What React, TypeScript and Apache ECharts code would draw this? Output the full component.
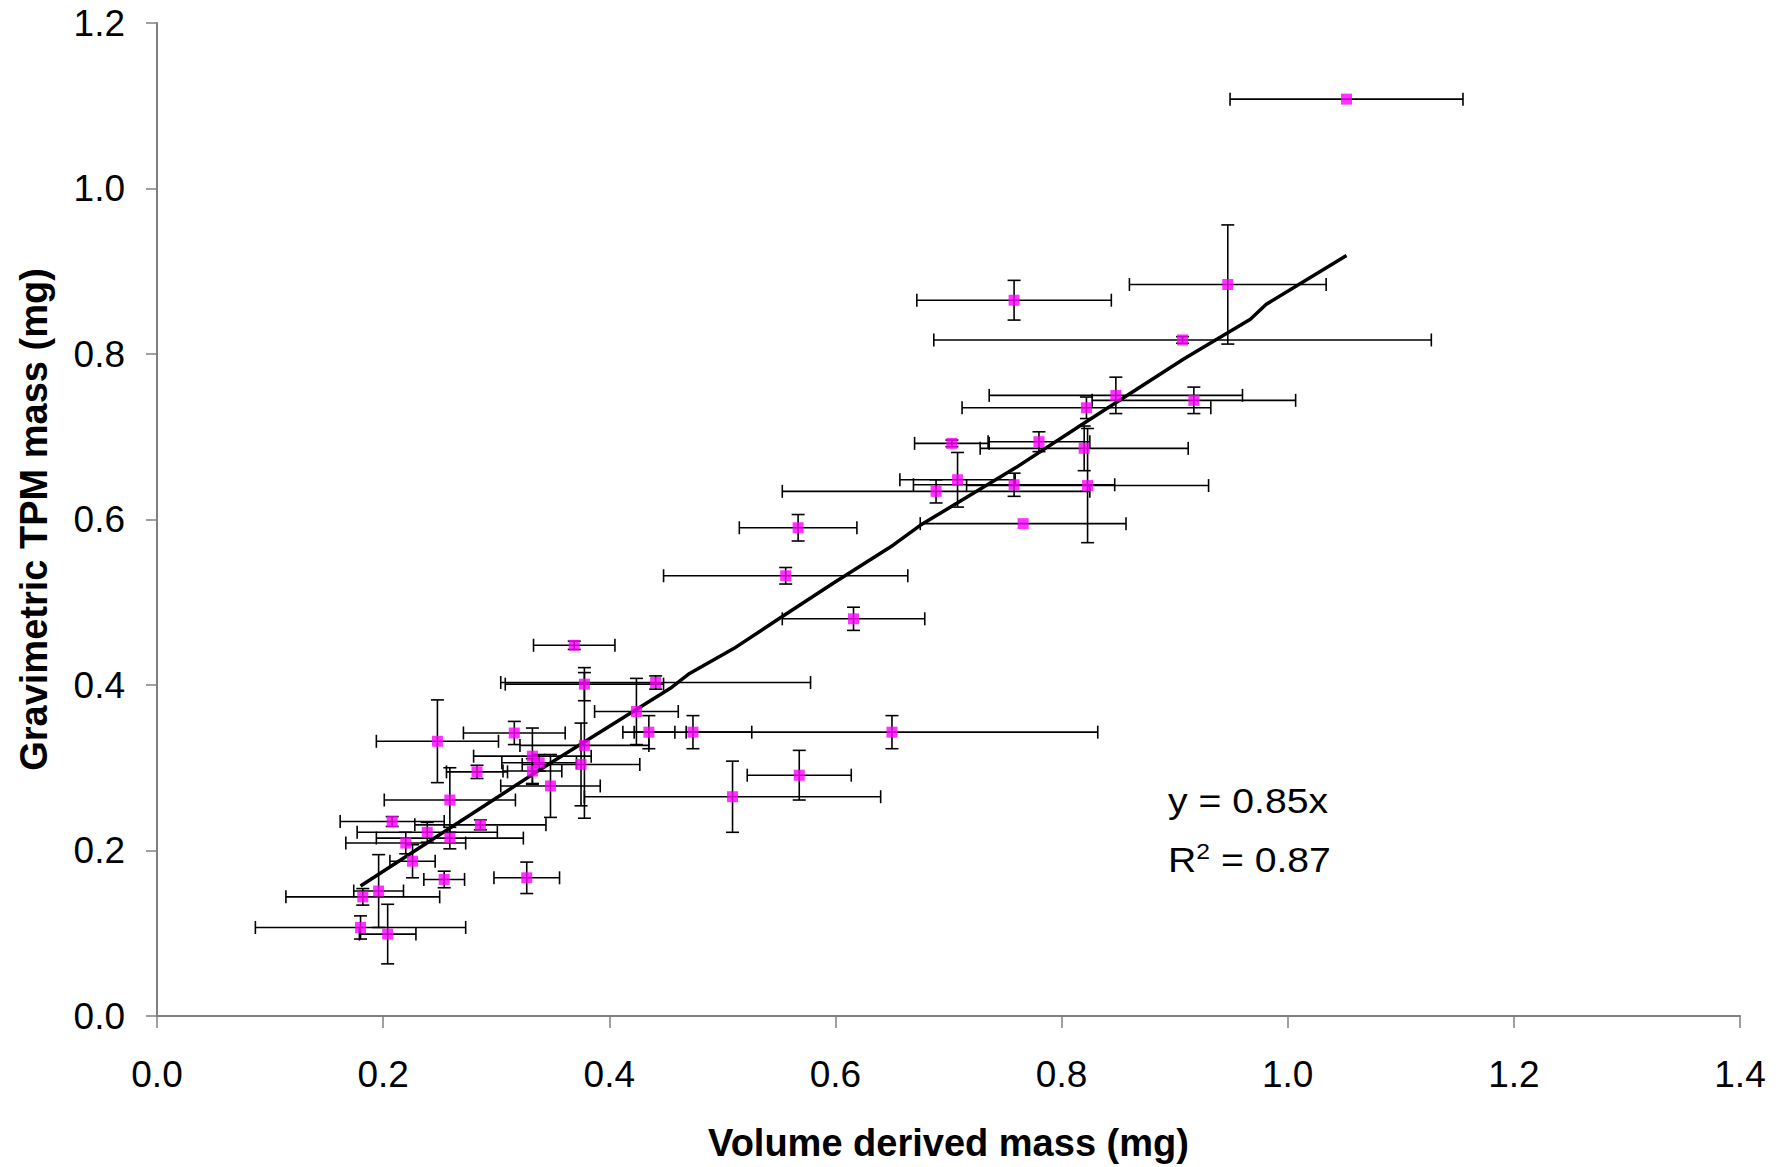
import React, { useEffect, useRef } from "react";
import * as echarts from "echarts";

// Volume derived mass (mg) for each particle sample
const xValues = [
  1.052, 0.947, 0.758, 0.907, 0.848, 0.822, 0.917, 0.703, 0.780, 0.820,
  0.708, 0.689, 0.758, 0.823, 0.567, 0.766, 0.556, 0.616, 0.369, 0.441,
  0.378, 0.424, 0.435, 0.474, 0.650, 0.316, 0.248, 0.332, 0.378, 0.338,
  0.375, 0.348, 0.283, 0.568, 0.509, 0.259, 0.208, 0.286, 0.239, 0.259,
  0.220, 0.226, 0.254, 0.327, 0.196, 0.182, 0.180, 0.204, 0.332,
];
// Gravimetric TPM mass (mg)
const yValues = [
  1.108, 0.884, 0.865, 0.817, 0.750, 0.735, 0.744, 0.692, 0.694, 0.686,
  0.648, 0.634, 0.642, 0.641, 0.590, 0.595, 0.532, 0.480, 0.448, 0.403,
  0.401, 0.368, 0.343, 0.343, 0.343, 0.342, 0.332, 0.314, 0.327, 0.306,
  0.304, 0.278, 0.295, 0.291, 0.265, 0.261, 0.235, 0.231, 0.222, 0.215,
  0.209, 0.187, 0.165, 0.167, 0.151, 0.144, 0.107, 0.099, 0.296,
];
// horizontal error (± mg)
const xErrors = [
  0.103, 0.087, 0.086, 0.220, 0.112, 0.110, 0.090, 0.033, 0.045, 0.092,
  0.051, 0.136, 0.089, 0.107, 0.052, 0.091, 0.108, 0.063, 0.036, 0.137,
  0.070, 0.037, 0.023, 0.052, 0.182, 0.045, 0.054, 0.052, 0.057, 0.033,
  0.052, 0.044, 0.027, 0.046, 0.131, 0.058, 0.046, 0.058, 0.062, 0.065,
  0.053, 0.020, 0.018, 0.029, 0.022, 0.068, 0.093, 0.025, 0.026,
];
// vertical error (± mg)
const yErrors = [
  0.000, 0.072, 0.024, 0.004, 0.022, 0.013, 0.016, 0.004, 0.012, 0.027,
  0.033, 0.014, 0.014, 0.069, 0.016, 0.000, 0.010, 0.014, 0.005, 0.008,
  0.020, 0.040, 0.020, 0.020, 0.020, 0.014, 0.050, 0.034, 0.088, 0.010,
  0.050, 0.038, 0.008, 0.030, 0.043, 0.039, 0.006, 0.006, 0.012, 0.013,
  0.013, 0.020, 0.010, 0.019, 0.044, 0.010, 0.014, 0.036, 0.015,
];
// fitted line as drawn
const trendX = [0.180, 0.339, 0.454, 0.471, 0.510, 0.551, 0.598, 0.651, 0.675, 0.760, 0.816, 0.908, 0.967, 0.981, 1.052];
const trendY = [0.157, 0.298, 0.396, 0.414, 0.444, 0.481, 0.523, 0.569, 0.593, 0.663, 0.713, 0.794, 0.842, 0.860, 0.919];

const equationLine = "y = 0.85x";
const rSquaredValue = "0.87";

const xTitle = "Volume derived mass (mg)";
const yTitle = "Gravimetric TPM mass (mg)";

const FONT = "'Liberation Sans', Arial, Helvetica, sans-serif";

export default function App() {
  const ref = useRef<HTMLDivElement>(null);

  useEffect(() => {
    if (!ref.current) return;
    const chart = echarts.init(ref.current, null, { renderer: "svg" });
    const points = xValues.map((x, i) => [x, yValues[i], xErrors[i], yErrors[i]]);
    const CAP = 6.5;
    const barStyle = { stroke: "#000", lineWidth: 1.6 };

    chart.setOption({
      animation: false,
      backgroundColor: "#ffffff",
      grid: { left: 157, right: 40, top: 23, bottom: 148, containLabel: false },
      xAxis: {
        type: "value",
        min: 0,
        max: 1.4,
        interval: 0.2,
        axisLine: { show: true, onZero: false, lineStyle: { color: "#808080", width: 2 } },
        axisTick: { show: true, length: 12, lineStyle: { color: "#808080", width: 1.5 } },
        axisLabel: {
          fontSize: 37,
          color: "#000",
          fontFamily: FONT,
          margin: 40,
          formatter: (v: number) => v.toFixed(1),
        },
        splitLine: { show: false },
        name: xTitle,
        nameLocation: "middle",
        nameGap: 108,
        nameTextStyle: { fontSize: 38, fontWeight: "bold", color: "#000", fontFamily: FONT },
      },
      yAxis: {
        type: "value",
        min: 0,
        max: 1.2,
        interval: 0.2,
        axisLine: { show: true, onZero: false, lineStyle: { color: "#808080", width: 2 } },
        axisTick: { show: true, length: 11, lineStyle: { color: "#808080", width: 1.5 } },
        axisLabel: {
          fontSize: 37,
          color: "#000",
          fontFamily: FONT,
          margin: 32,
          formatter: (v: number) => v.toFixed(1),
        },
        splitLine: { show: false },
        name: yTitle,
        nameLocation: "middle",
        nameGap: 104,
        nameRotate: 90,
        nameTextStyle: { fontSize: 38, fontWeight: "bold", color: "#000", fontFamily: FONT },
      },
      series: [
        {
          type: "custom",
          z: 2,
          silent: true,
          data: points,
          encode: { x: 0, y: 1 },
          renderItem: (params: any, api: any) => {
            const x = api.value(0);
            const y = api.value(1);
            const ex = api.value(2);
            const ey = api.value(3);
            const c = api.coord([x, y]);
            const children: any[] = [];
            if (ex > 0) {
              const l = api.coord([x - ex, y]);
              const r = api.coord([x + ex, y]);
              children.push({ type: "line", shape: { x1: l[0], y1: c[1], x2: r[0], y2: c[1] }, style: barStyle });
              children.push({ type: "line", shape: { x1: l[0], y1: c[1] - CAP, x2: l[0], y2: c[1] + CAP }, style: barStyle });
              children.push({ type: "line", shape: { x1: r[0], y1: c[1] - CAP, x2: r[0], y2: c[1] + CAP }, style: barStyle });
            }
            if (ey > 0) {
              const t = api.coord([x, y + ey]);
              const b = api.coord([x, y - ey]);
              children.push({ type: "line", shape: { x1: c[0], y1: t[1], x2: c[0], y2: b[1] }, style: barStyle });
              children.push({ type: "line", shape: { x1: c[0] - CAP, y1: t[1], x2: c[0] + CAP, y2: t[1] }, style: barStyle });
              children.push({ type: "line", shape: { x1: c[0] - CAP, y1: b[1], x2: c[0] + CAP, y2: b[1] }, style: barStyle });
            }
            return { type: "group", children };
          },
        },
        {
          type: "line",
          z: 3,
          silent: true,
          data: trendX.map((x, i) => [x, trendY[i]]),
          symbol: "none",
          showSymbol: false,
          lineStyle: { color: "#000", width: 3.5 },
        },
        {
          type: "scatter",
          z: 4,
          silent: true,
          data: points.map((p) => [p[0], p[1]]),
          symbol: "rect",
          symbolSize: 11,
          itemStyle: { color: "#FF00FF" },
        },
      ],
      graphic: [
        {
          type: "text",
          x: 1168,
          y: 801,
          scaleX: 1.12,
          style: {
            text: equationLine,
            fontSize: 35,
            fontFamily: FONT,
            fill: "#000",
            verticalAlign: "middle",
            align: "left",
          },
        },
        {
          type: "text",
          x: 1168,
          y: 860,
          scaleX: 1.12,
          style: {
            text: "{r|R}{s|2}{r| = " + rSquaredValue + "}",
            fontFamily: FONT,
            fill: "#000",
            verticalAlign: "middle",
            align: "left",
            rich: {
              r: { fontSize: 35, fontFamily: FONT, fill: "#000", verticalAlign: "middle", lineHeight: 40 },
              s: { fontSize: 22, fontFamily: FONT, fill: "#000", verticalAlign: "top", lineHeight: 40, padding: [0, 0, 0, 0] },
            },
          },
        },
      ],
    });

    return () => chart.dispose();
  }, []);

  return (
    <div
      ref={ref}
      style={{ position: "absolute", left: 0, top: 0, width: 1780, height: 1167, background: "#fff" }}
    />
  );
}
